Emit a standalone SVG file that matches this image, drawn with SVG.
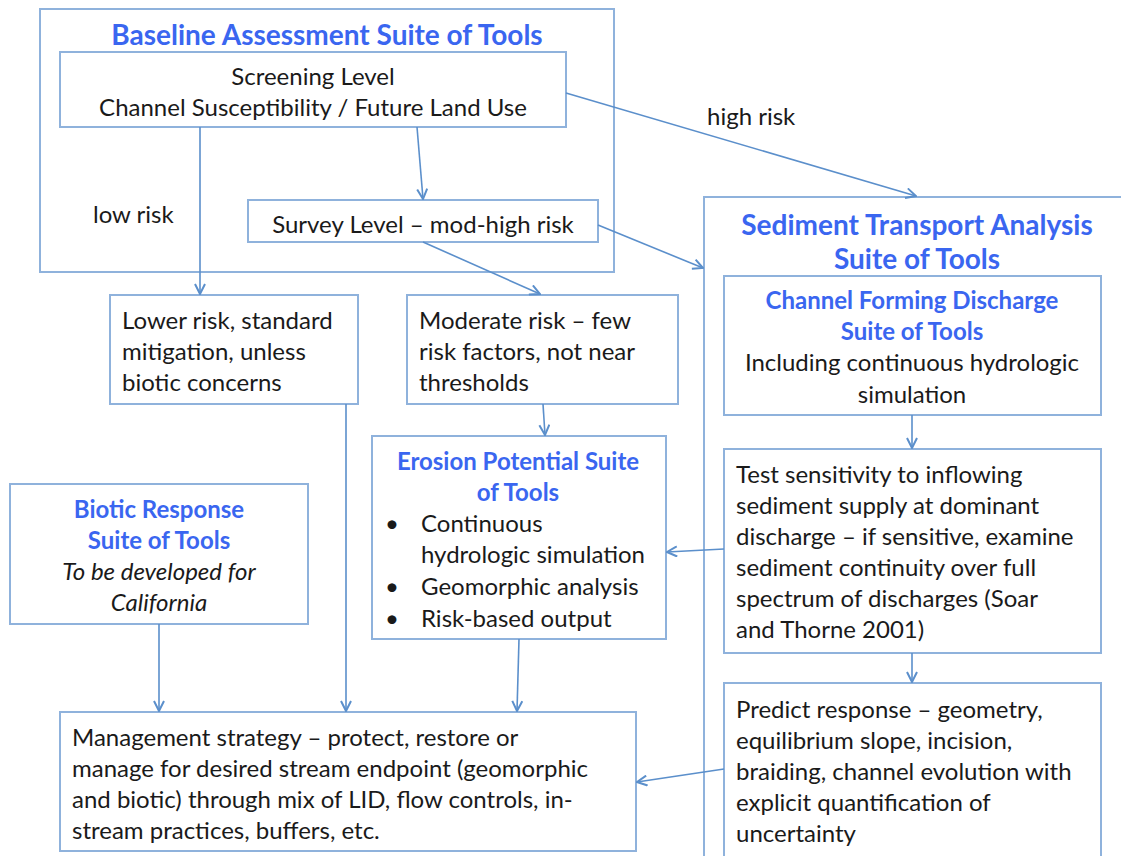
<svg xmlns="http://www.w3.org/2000/svg" width="1121" height="856" viewBox="0 0 1121 856">
<defs>
<style>
.box{fill:#fff;stroke:#8fb2dc;stroke-width:2}
.frame{fill:none;stroke:#8fb2dc;stroke-width:2}
.t{font-family:Lato,"Noto Sans",sans-serif;font-size:24px;fill:#1a1a1a}
.c{text-anchor:middle}
.h{font-family:Lato,"Noto Sans",sans-serif;font-weight:bold;fill:#3a66f0;text-anchor:middle}
.i{font-style:italic}
.conn{fill:none;stroke:#5b8fcb;stroke-width:1.6}
</style>
<marker id="ah" viewBox="0 0 12 12" refX="11" refY="6" markerWidth="12" markerHeight="12" markerUnits="userSpaceOnUse" orient="auto">
<path d="M1,1 L11,6 L1,11" fill="none" stroke="#5b8fcb" stroke-width="2"/>
</marker>
</defs>
<rect width="1121" height="856" fill="#fff"/>

<g id="baseline">
<rect class="frame" x="40" y="9" width="574" height="263"/>
<text class="h" x="327" y="45" font-size="28">Baseline Assessment Suite of Tools</text>
</g>
<g id="screening">
<rect class="box" x="60" y="52" width="506" height="75"/>
<text class="t c" x="313" y="85">Screening Level</text>
<text class="t c" x="313" y="116">Channel Susceptibility / Future Land Use</text>
</g>
<g id="survey">
<rect class="box" x="248" y="200" width="350" height="42"/>
<text class="t c" x="423" y="233">Survey Level – mod-high risk</text>
</g>
<g id="sediment">
<rect class="frame" x="704" y="197" width="430" height="670"/>
<text class="h" x="917" y="235" font-size="28">Sediment Transport Analysis</text>
<text class="h" x="917" y="269" font-size="28">Suite of Tools</text>
</g>
<g id="lower">
<rect class="box" x="110" y="295" width="248" height="109"/>
<text class="t" x="122" y="329">Lower risk, standard</text>
<text class="t" x="122" y="360">mitigation, unless</text>
<text class="t" x="122" y="391">biotic concerns</text>
</g>
<g id="moderate">
<rect class="box" x="407" y="295" width="271" height="109"/>
<text class="t" x="419" y="329">Moderate risk – few</text>
<text class="t" x="419" y="360">risk factors, not near</text>
<text class="t" x="419" y="391">thresholds</text>
</g>
<g id="channel">
<rect class="box" x="724" y="276" width="377" height="139"/>
<text class="h" x="912" y="309" font-size="24">Channel Forming Discharge</text>
<text class="h" x="912" y="340" font-size="24">Suite of Tools</text>
<text class="t c" x="912" y="371">Including continuous hydrologic</text>
<text class="t c" x="912" y="403">simulation</text>
</g>
<g id="erosion">
<rect class="box" x="372" y="436" width="294" height="203"/>
<text class="h" x="518" y="470" font-size="24">Erosion Potential Suite</text>
<text class="h" x="518" y="501" font-size="24">of Tools</text>
<text class="t" x="385" y="532">•</text>
<text class="t" x="421" y="532">Continuous</text>
<text class="t" x="421" y="563">hydrologic simulation</text>
<text class="t" x="385" y="595">•</text>
<text class="t" x="421" y="595">Geomorphic analysis</text>
<text class="t" x="385" y="627">•</text>
<text class="t" x="421" y="627">Risk-based output</text>
</g>
<g id="biotic">
<rect class="box" x="10" y="484" width="298" height="140"/>
<text class="h" x="159" y="518" font-size="24">Biotic Response</text>
<text class="h" x="159" y="549" font-size="24">Suite of Tools</text>
<text class="t c i" x="159" y="580">To be developed for</text>
<text class="t c i" x="159" y="611">California</text>
</g>
<g id="test">
<rect class="box" x="724" y="449" width="377" height="204"/>
<text class="t" x="736" y="483">Test sensitivity to inflowing</text>
<text class="t" x="736" y="514">sediment supply at dominant</text>
<text class="t" x="736" y="545">discharge – if sensitive, examine</text>
<text class="t" x="736" y="576">sediment continuity over full</text>
<text class="t" x="736" y="607">spectrum of discharges (Soar</text>
<text class="t" x="736" y="638">and Thorne 2001)</text>
</g>
<g id="predict">
<rect class="box" x="724" y="683" width="377" height="185"/>
<text class="t" x="736" y="718">Predict response – geometry,</text>
<text class="t" x="736" y="749">equilibrium slope, incision,</text>
<text class="t" x="736" y="780">braiding, channel evolution with</text>
<text class="t" x="736" y="811">explicit quantification of</text>
<text class="t" x="736" y="842">uncertainty</text>
</g>
<g id="management">
<rect class="box" x="60" y="712" width="576" height="139"/>
<text class="t" x="72" y="746">Management strategy – protect, restore or</text>
<text class="t" x="72" y="777">manage for desired stream endpoint (geomorphic</text>
<text class="t" x="72" y="808">and biotic) through mix of LID, flow controls, in-</text>
<text class="t" x="72" y="839">stream practices, buffers, etc.</text>
</g>

<g id="connectors">
<path class="conn" marker-end="url(#ah)" d="M200,127 L200,294"/>
<path class="conn" marker-end="url(#ah)" d="M417,127 L423,199"/>
<path class="conn" marker-end="url(#ah)" d="M566,93 L916,196"/>
<path class="conn" marker-end="url(#ah)" d="M598,225 L703,268"/>
<path class="conn" marker-end="url(#ah)" d="M423,242 L540,294"/>
<path class="conn" marker-end="url(#ah)" d="M543,404 L545,435"/>
<path class="conn" marker-end="url(#ah)" d="M346,404 L346,711"/>
<path class="conn" marker-end="url(#ah)" d="M159,624 L159,711"/>
<path class="conn" marker-end="url(#ah)" d="M519,639 L517,711"/>
<path class="conn" marker-end="url(#ah)" d="M912,415 L912,448"/>
<path class="conn" marker-end="url(#ah)" d="M912,653 L912,682"/>
<path class="conn" marker-end="url(#ah)" d="M724,549 L667,552"/>
<path class="conn" marker-end="url(#ah)" d="M724,769 L637,782"/>
<text class="t" x="93" y="223" font-size="28">low risk</text>
<text class="t" x="707" y="125" font-size="28">high risk</text>
</g>
</svg>
